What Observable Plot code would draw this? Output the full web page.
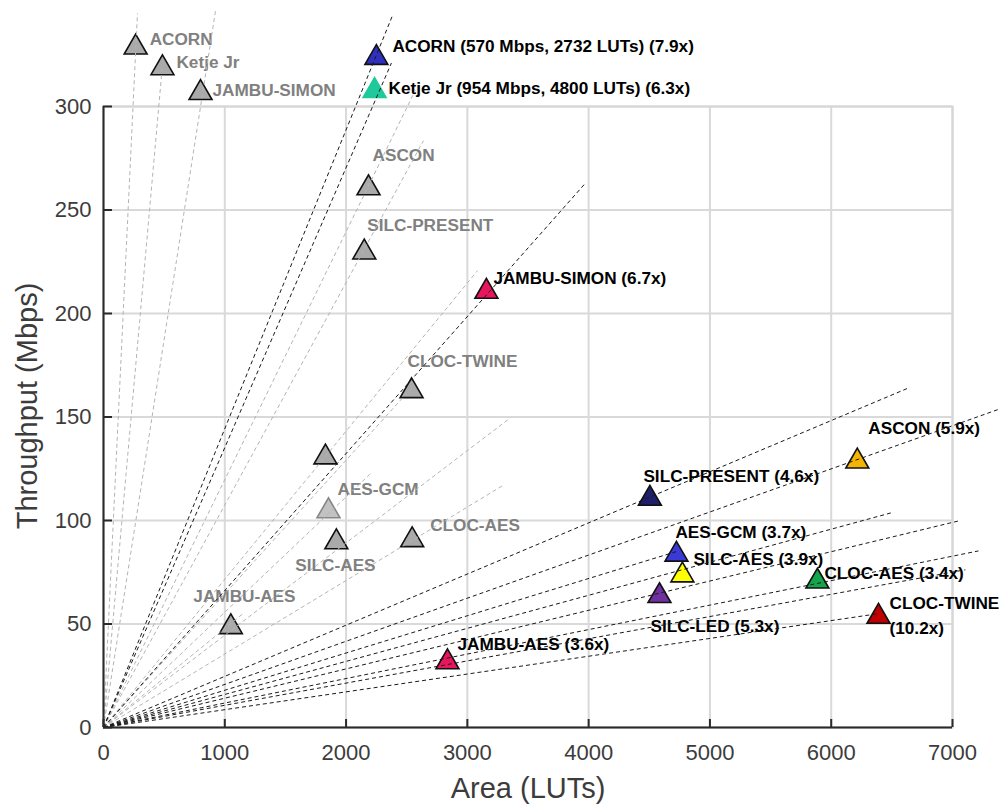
<!DOCTYPE html>
<html><head><meta charset="utf-8">
<script src="https://cdn.jsdelivr.net/npm/d3@7"></script>
<script src="https://cdn.jsdelivr.net/npm/@observablehq/plot@0.6"></script>
<style>
html,body{margin:0;padding:0;background:#fff;}
#chart{width:1000px;height:804px;}
</style></head><body><div id="chart"></div>
<script>
// ---- data ----
const xTicks = [0, 1000, 2000, 3000, 4000, 5000, 6000, 7000];
const yTicks = [0, 50, 100, 150, 200, 250, 300];
const xTitle = "Area (LUTs)";
const yTitle = "Throughput (Mbps)";

// reference (gray) designs
const grayNames = ["ACORN", "Ketje Jr", "JAMBU-SIMON", "ASCON", "SILC-PRESENT", "CLOC-TWINE", "", "AES-GCM", "SILC-AES", "CLOC-AES", "JAMBU-AES"];
const grayArea = [265, 486, 800, 2185, 2150, 2540, 1830, 1855, 1920, 2545, 1050];
const grayThroughput = [330, 320, 308, 262, 231, 164, 132, 106, 91, 92, 50];

// this work (coloured) designs
const colorNames = ["ACORN (570 Mbps, 2732 LUTs) (7.9x)", "Ketje Jr (954 Mbps, 4800 LUTs) (6.3x)", "JAMBU-SIMON (6.7x)", "SILC-PRESENT (4.6x)", "ASCON (5.9x)", "AES-GCM (3.7x)", "SILC-AES (3.9x)", "SILC-LED (5.3x)", "CLOC-AES (3.4x)", "CLOC-TWINE\n(10.2x)", "JAMBU-AES (3.6x)"];
const colorArea = [2250, 2235, 3157, 4505, 6215, 4724, 4773, 4584, 5886, 6390, 2836];
const colorThroughput = [325, 309, 212, 112, 130, 85, 75, 65, 72, 55, 33];
const colorFill = ["#3030c0", "#1ec99b", "#e8175d", "#1f1f6b", "#f5b400", "#3a3ad8", "#ffff00", "#7030a0", "#14a64b", "#c00000", "#e8175d"];

// efficiency rays from the origin (end points)
const grayRayArea = [280, 486, 923, 2572, 2638, 2540, 3083, 2201, 3355, 3290, 1150];
const grayRayThroughput = [345, 320, 346, 308, 283.5, 164, 220.7, 122.6, 149.6, 116.8, 55];
const blackRayArea = [2383, 2374, 3974, 6636, 7395, 4724, 6513, 7065, 7214, 7106, 6390];
const blackRayThroughput = [344, 321, 263, 164, 154, 85, 104, 100, 85.3, 76.2, 55];

// ---- layout / styling ----
const grayLabelPlace = [[14,-5],[14,-3],[12,0.5],[4,-29.5],[3,-23.5],[-4,-26.5],[0,0],[9,-18.5],[-41,26.5],[18,-11.5],[-37.5,-27.5]];
const colorLabelPlace = [[16,-10.5],[14,-2],[7,-13],[-6.5,-22],[11,-32.5],[-1,-22],[11,-15],[-9,31],[7,-7.5],[11,0],[10,-17.5]];

const gray = grayNames.map((n, i) => ({name: n, x: grayArea[i], y: grayThroughput[i], i}));
const colored = colorNames.map((n, i) => ({name: n, x: colorArea[i], y: colorThroughput[i], fill: colorFill[i], i}));
const grayRays = grayRayArea.map((x, i) => ({x, y: grayRayThroughput[i]}));
const blackRays = blackRayArea.map((x, i) => ({x, y: blackRayThroughput[i]}));
const ORIGIN = 0;

const FONT = "'Liberation Sans', Arial, Helvetica, sans-serif";

const marks = [
  Plot.gridX(xTicks, {stroke: "#d9d9d9", strokeOpacity: 1, strokeWidth: 2}),
  Plot.gridY(yTicks, {stroke: "#d9d9d9", strokeOpacity: 1, strokeWidth: 2}),
  Plot.frame({stroke: "#d6d6d6", strokeWidth: 2}),
  Plot.dot(gray, {x: "x", y: "y", symbol: "triangle", r: 8.5, dy: 3,
    fill: d => d.name === "AES-GCM" ? "#c2c2c2" : "#aaaaaa",
    stroke: d => d.name === "AES-GCM" ? "#858585" : "#111", strokeWidth: 1.6}),
  Plot.dot(colored, {x: "x", y: "y", symbol: "triangle", r: 8.5, dy: 3, fill: "fill",
    stroke: d => d.i === 1 ? d.fill : "#111", strokeWidth: 1.6}),
];

gray.forEach((d, i) => {
  if (!d.name) return;
  marks.push(Plot.text([d], {x: "x", y: "y", text: "name", dx: grayLabelPlace[i][0], dy: grayLabelPlace[i][1],
    textAnchor: "start", fontSize: 17.2, fontWeight: "bold", fill: "#808080"}));
});
colored.forEach((d, i) => {
  marks.push(Plot.text([d], {x: "x", y: "y", text: "name", dx: colorLabelPlace[i][0], dy: colorLabelPlace[i][1],
    textAnchor: "start", lineAnchor: "middle", lineHeight: 1.47, fontSize: 17.2, fontWeight: "bold", fill: "#000"}));
});

marks.push(
  Plot.link(grayRays, {x1: () => ORIGIN, y1: () => ORIGIN, x2: "x", y2: "y", stroke: "#b4b4b4", strokeWidth: 1, strokeDasharray: "4,3"}),
  Plot.link(blackRays, {x1: () => ORIGIN, y1: () => ORIGIN, x2: "x", y2: "y", stroke: "#1a1a1a", strokeWidth: 1, strokeDasharray: "4,3"}),
  Plot.ruleX([0], {stroke: "#2a2a2a", strokeWidth: 2}),
  Plot.ruleY([0], {stroke: "#2a2a2a", strokeWidth: 2}),
  Plot.tickX(xTicks, {x: d => d, insetTop: 613, stroke: "#2a2a2a", strokeWidth: 2}),
  Plot.tickY(yTicks, {y: d => d, insetRight: 840, stroke: "#2a2a2a", strokeWidth: 2}),
  Plot.axisX(xTicks, {tickSize: 0, tickPadding: 17, fontSize: 22, color: "#3c3c3c", label: null, tickFormat: d3.format("d")}),
  Plot.axisY(yTicks, {tickSize: 0, tickPadding: 12, fontSize: 22, color: "#3c3c3c", label: null, tickFormat: d3.format("d")}),
  Plot.text([xTitle], {frameAnchor: "bottom", dy: 61, lineAnchor: "middle", textAnchor: "middle", text: d => d, fontSize: 29, fill: "#3c3c3c"}),
  Plot.text([yTitle], {frameAnchor: "left", dx: -76, dy: -11, rotate: -90, lineAnchor: "middle", textAnchor: "middle", text: d => d, fontSize: 29, fill: "#3c3c3c"})
);

const plot = Plot.plot({
  width: 1000, height: 804,
  marginLeft: 103, marginRight: 48, marginTop: 106, marginBottom: 77,
  x: {domain: [0, 7000], label: null},
  y: {domain: [0, 300], label: null},
  style: {fontFamily: FONT, background: "#fff", overflow: "visible"},
  marks
});
document.getElementById("chart").appendChild(plot);
</script>
</body></html>
